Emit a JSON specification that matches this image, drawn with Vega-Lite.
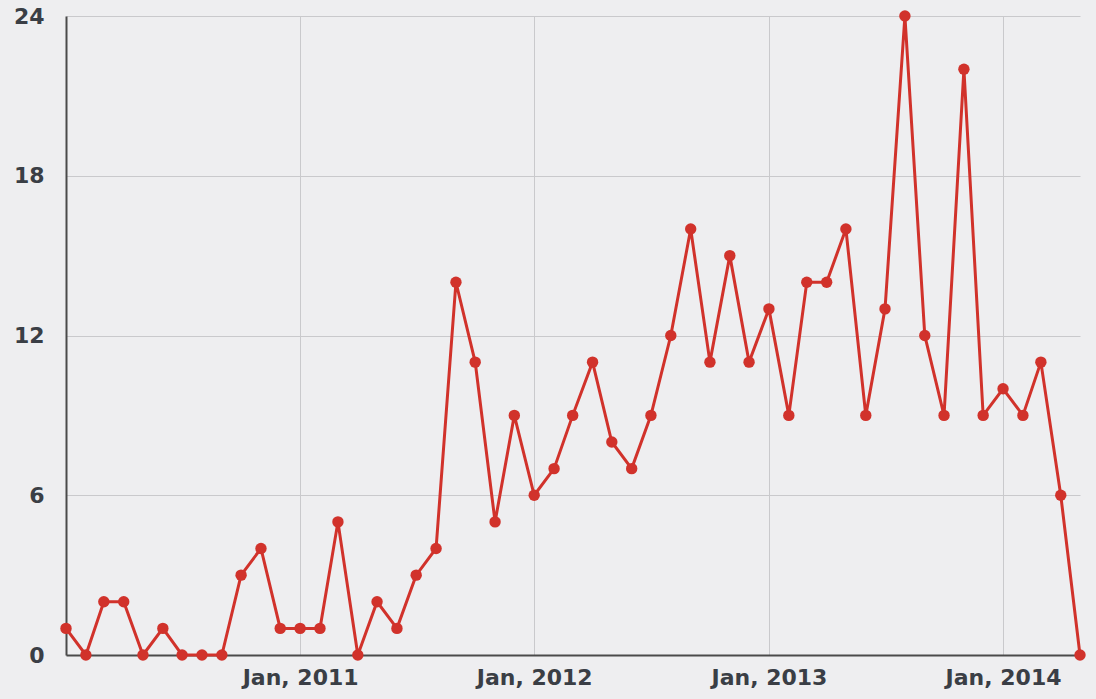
{
  "$schema": "https://vega.github.io/schema/vega-lite/v6.json",
  "autosize": {"type": "none"},
  "padding": {"left": 66, "top": 16, "right": 16, "bottom": 44},
  "width": 1014,
  "height": 639,
  "background": "#eeeef0",
  "config": {
    "view": {"stroke": null, "fill": "#eeeef0"},
    "axis": {"labelFont": "DejaVu Sans", "labelFontWeight": "bold", "labelColor": "#3a3e45", "labelFontSize": 22, "gridColor": "#c9c9cc", "gridWidth": 1, "ticks": false, "domainColor": "#4a4a4a", "domainWidth": 2}
  },
  "data": {"values": [
    {"month": "2010-01", "count": 1}, {"month": "2010-02", "count": 0}, {"month": "2010-03", "count": 2},
    {"month": "2010-04", "count": 2}, {"month": "2010-05", "count": 0}, {"month": "2010-06", "count": 1},
    {"month": "2010-07", "count": 0}, {"month": "2010-08", "count": 0}, {"month": "2010-09", "count": 0},
    {"month": "2010-10", "count": 3}, {"month": "2010-11", "count": 4}, {"month": "2010-12", "count": 1},
    {"month": "2011-01", "count": 1}, {"month": "2011-02", "count": 1}, {"month": "2011-03", "count": 5},
    {"month": "2011-04", "count": 0}, {"month": "2011-05", "count": 2}, {"month": "2011-06", "count": 1},
    {"month": "2011-07", "count": 3}, {"month": "2011-08", "count": 4}, {"month": "2011-09", "count": 14},
    {"month": "2011-10", "count": 11}, {"month": "2011-11", "count": 5}, {"month": "2011-12", "count": 9},
    {"month": "2012-01", "count": 6}, {"month": "2012-02", "count": 7}, {"month": "2012-03", "count": 9},
    {"month": "2012-04", "count": 11}, {"month": "2012-05", "count": 8}, {"month": "2012-06", "count": 7},
    {"month": "2012-07", "count": 9}, {"month": "2012-08", "count": 12}, {"month": "2012-09", "count": 16},
    {"month": "2012-10", "count": 11}, {"month": "2012-11", "count": 15}, {"month": "2012-12", "count": 11},
    {"month": "2013-01", "count": 13}, {"month": "2013-02", "count": 9}, {"month": "2013-03", "count": 14},
    {"month": "2013-04", "count": 14}, {"month": "2013-05", "count": 16}, {"month": "2013-06", "count": 9},
    {"month": "2013-07", "count": 13}, {"month": "2013-08", "count": 24}, {"month": "2013-09", "count": 12},
    {"month": "2013-10", "count": 9}, {"month": "2013-11", "count": 22}, {"month": "2013-12", "count": 9},
    {"month": "2014-01", "count": 10}, {"month": "2014-02", "count": 9}, {"month": "2014-03", "count": 11},
    {"month": "2014-04", "count": 6}, {"month": "2014-05", "count": 0}
  ]},
  "mark": {"type": "line", "color": "#d1322b", "strokeWidth": 3, "clip": false, "point": {"filled": true, "size": 130, "color": "#d1322b", "opacity": 1}},
  "encoding": {
    "x": {
      "field": "month", "type": "temporal", "timeUnit": "yearmonth",
      "scale": {"domain": [{"year": 2010, "month": 1, "date": 1}, {"year": 2014, "month": 5, "date": 1}], "nice": false},
      "axis": {"title": null, "format": "%b, %Y", "labelPadding": 12,
        "values": [{"year": 2011, "month": 1, "date": 1}, {"year": 2012, "month": 1, "date": 1}, {"year": 2013, "month": 1, "date": 1}, {"year": 2014, "month": 1, "date": 1}],
        "labelAlign": "center", "labelFlush": false}
    },
    "y": {
      "field": "count", "type": "quantitative",
      "scale": {"domain": [0, 24], "nice": false},
      "axis": {"title": null, "values": [0, 6, 12, 18, 24], "labelPadding": 22, "labelFlush": false}
    }
  }
}
